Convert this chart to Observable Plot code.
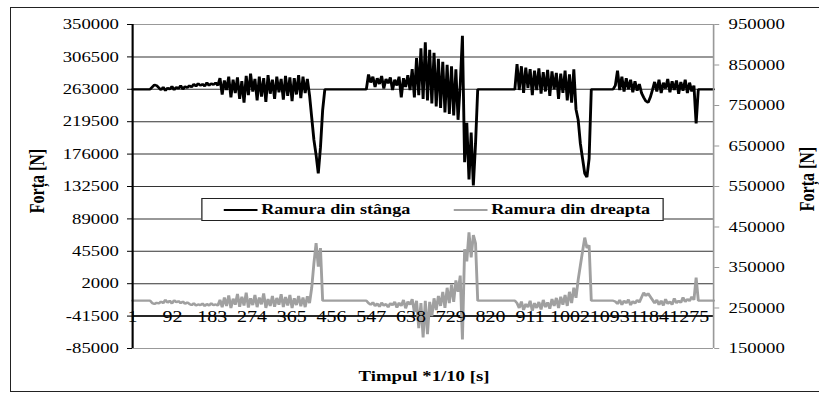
<!DOCTYPE html>
<html><head><meta charset="utf-8">
<script src="https://cdn.jsdelivr.net/npm/d3@7"></script>
<script src="https://cdn.jsdelivr.net/npm/@observablehq/plot@0.6"></script>
<style>
html,body{margin:0;padding:0;background:#fff;overflow:hidden;width:819px;height:394px;}
#frame{position:absolute;left:10px;top:7px;width:830px;height:383px;border:1px solid #222;}
#stage{position:absolute;left:0;top:0;width:655.2px;height:394px;transform:scaleX(1.25);transform-origin:0 0;font-family:"Liberation Serif","Times New Roman",serif;}
#stage svg{position:absolute;left:0;top:0;}
.title{position:absolute;font-family:"Liberation Serif","Times New Roman",serif;font-weight:bold;white-space:nowrap;color:#000;line-height:1;}
#legend{position:absolute;left:160.8px;top:198px;width:370.4px;height:23px;border:1px solid #222;background:#fff;box-sizing:border-box;font-family:"Liberation Serif","Times New Roman",serif;font-weight:bold;font-size:14.5px;line-height:21px;}
#legend .sw{position:absolute;top:10px;width:27px;height:2px;}
#legend .lb{position:absolute;top:0;white-space:nowrap;font-family:"Liberation Serif","Times New Roman",serif;}
</style></head>
<body>
<div id="frame"></div>
<div id="stage"></div>
<script>
// ---- data ----
const seriesNames = ["Ramura din stânga", "Ramura din dreapta"];
const leftTicks = [-85000, -41500, 2000, 45500, 89000, 132500, 176000, 219500, 263000, 306500, 350000];
const rightTicks = [150000, 250000, 350000, 450000, 550000, 650000, 750000, 850000, 950000];
const xTickLabels = [1, 92, 183, 274, 365, 456, 547, 638, 729, 820, 911, 1002, 1093, 1184, 1275];
const timeStep = 5; // one sample every 5 time units, starting at t = 1

const leftBranch = [
263000,263000,263000,263000,263000,263000,263000,263000,263000,
266000,269000,268000,265000,
262000,266000,261000,265000,263000,267000,262000,266000,264000,268000,263000,267000,265000,
268000,266000,270000,267000,271000,268000,270000,267000,272000,268000,271000,269000,272000,268000,
278000,256000,275000,262000,280000,252000,276000,258000,279000,250000,274000,245000,281000,255000,284000,260000,277000,248000,280000,253000,278000,246000,282000,257000,276000,250000,280000,259000,277000,249000,281000,254000,279000,247000,278000,256000,282000,251000,280000,258000,277000,255000,
225000,195000,175000,150000,185000,235000,
263000,263000,263000,263000,263000,263000,263000,263000,263000,263000,263000,263000,263000,263000,263000,263000,263000,263000,263000,263000,
283000,272000,280000,266000,278000,270000,281000,264000,277000,271000,279000,262000,276000,268000,280000,252000,278000,266000,282000,
262000,290000,252000,305000,255000,318000,
250000,326000,248000,316000,244000,312000,240000,304000,238000,300000,232000,296000,230000,294000,
228000,290000,222000,270000,
335000,
165000,218000,142000,205000,134000,190000,
263000,263000,263000,263000,263000,263000,263000,263000,263000,263000,263000,263000,263000,263000,263000,263000,263000,263000,
297000,262000,294000,258000,292000,265000,290000,255000,288000,262000,291000,257000,286000,260000,289000,254000,287000,263000,285000,250000,284000,258000,288000,248000,283000,245000,290000,236000,
222000,190000,170000,150000,145000,170000,
263000,263000,263000,263000,263000,263000,263000,263000,263000,263000,263000,
268000,288000,262000,280000,260000,278000,263000,276000,259000,274000,261000,270000,
258000,252000,247000,245000,252000,262000,
273000,260000,276000,258000,272000,264000,277000,259000,274000,262000,275000,257000,273000,261000,276000,258000,272000,260000,268000,
217000,
263000,263000,263000,263000,263000,263000,263000,263000
];

const rightBranch = [
268000,268000,268000,268000,268000,268000,268000,268000,268000,
262000,260000,263000,261000,
266000,262000,270000,263000,268000,261000,269000,264000,267000,262000,266000,260000,264000,
260000,257000,262000,256000,259000,257000,261000,255000,260000,256000,262000,257000,259000,256000,
270000,252000,276000,255000,281000,250000,273000,258000,285000,253000,278000,256000,288000,251000,274000,257000,282000,252000,276000,259000,286000,250000,272000,255000,280000,253000,275000,258000,284000,252000,277000,256000,282000,250000,274000,257000,280000,254000,276000,252000,279000,262000,
300000,360000,410000,352000,398000,268000,
268000,268000,268000,268000,268000,268000,268000,268000,268000,268000,268000,268000,268000,268000,268000,268000,268000,268000,268000,268000,
262000,258000,264000,255000,261000,253000,263000,256000,260000,252000,262000,257000,265000,251000,263000,255000,270000,249000,266000,
258000,272000,240000,268000,200000,262000,
177000,268000,185000,265000,230000,274000,245000,280000,255000,290000,250000,300000,262000,308000,
265000,318000,290000,330000,
172000,
395000,365000,437000,375000,430000,410000,
268000,268000,268000,268000,268000,268000,268000,268000,268000,268000,268000,268000,268000,268000,268000,268000,268000,268000,
262000,250000,266000,245000,260000,252000,268000,243000,262000,250000,265000,246000,270000,252000,264000,248000,272000,255000,275000,250000,278000,258000,282000,255000,290000,262000,300000,275000,
320000,355000,390000,424000,398000,405000,
268000,268000,268000,268000,268000,268000,268000,268000,268000,268000,268000,
266000,260000,270000,258000,268000,262000,271000,257000,267000,261000,270000,264000,
276000,288000,280000,286000,278000,270000,
262000,270000,258000,268000,256000,272000,260000,266000,258000,274000,262000,268000,263000,276000,265000,272000,267000,278000,270000,
325000,
268000,268000,268000,268000,268000,268000,268000,268000
];

// ---- build ----
const seriesColors = ["#000000", "#a0a0a0"];
const time = leftBranch.map((_, i) => 1 + i * timeStep);
const tMax = time[time.length - 1];
const toLeft = d3.scaleLinear()
  .domain([rightTicks[0], rightTicks[rightTicks.length - 1]])
  .range([leftTicks[0], leftTicks[leftTicks.length - 1]]);

const leftRows = time.map((t, i) => ({t, v: leftBranch[i]}));
const rightRows = time.map((t, i) => ({t, v: rightBranch[i]}));
const serif = '"Liberation Serif","Times New Roman",serif';

const chart = Plot.plot({
  width: 655.2,
  height: 394,
  marginLeft: 105.6,
  marginRight: 84.8,
  marginTop: 24,
  marginBottom: 46,
  style: {fontFamily: serif, fontSize: "15px", background: "transparent", overflow: "visible"},
  x: {domain: [1, tMax], axis: null},
  y: {domain: [leftTicks[0], leftTicks[leftTicks.length - 1]]},
  marks: [
    Plot.ruleY(leftTicks.slice(1, -1), {stroke: "#333", strokeWidth: 1}),
    Plot.ruleY([leftTicks[0], leftTicks[leftTicks.length - 1]], {stroke: "#999", strokeWidth: 1}),
    Plot.ruleY([-41500], {stroke: "#000", strokeWidth: 1.5}),
    Plot.line(leftRows, {x: "t", y: "v", stroke: seriesColors[0], strokeWidth: 2.3, strokeLinejoin: "miter"}),
    Plot.line(rightRows, {x: "t", y: d => toLeft(d.v), stroke: seriesColors[1], strokeWidth: 2.3, strokeLinejoin: "miter"}),
    Plot.ruleX([1], {stroke: "#000", strokeWidth: 1.7}),
    Plot.ruleX([tMax], {stroke: "#999", strokeWidth: 1.3}),
    Plot.axisY(leftTicks, {anchor: "left", tickSize: 4, tickPadding: 7, tickFormat: d => String(d), fontSize: 15, fontFamily: serif, label: null, stroke: "#000", fill: "#000"}),
    Plot.axisY(rightTicks.map(toLeft), {anchor: "right", tickSize: 4, tickPadding: 8, tickFormat: d => String(Math.round(toLeft.invert(d))), fontSize: 15, fontFamily: serif, label: null, stroke: "#999", fill: "#000"}),
    Plot.text(xTickLabels, {x: d => d, y: -41500, text: d => String(d), fontSize: 16, fontFamily: serif, lineAnchor: "middle", dy: 1, fill: "#000"})
  ]
});

const stage = document.getElementById("stage");
stage.appendChild(chart);

function addTitle(text, cx, cy, size, rotate) {
  const d = document.createElement("div");
  d.className = "title";
  d.textContent = text;
  d.style.left = cx + "px";
  d.style.top = cy + "px";
  d.style.fontSize = size + "px";
  d.style.transform = "translate(-50%,-50%)" + (rotate ? " rotate(-90deg)" : "");
  stage.appendChild(d);
}
addTitle("Forța [N]", 29.6, 181, 16, true);
addTitle("Forța [N]", 646, 179, 16, true);
addTitle("Timpul *1/10 [s]", 339.2, 376, 15, false);

const legend = document.createElement("div");
legend.id = "legend";
const lx = [[17.6, 47.2], [201.6, 231.2]];
seriesNames.forEach((name, k) => {
  const sw = document.createElement("div");
  sw.className = "sw";
  sw.style.left = lx[k][0] + "px";
  sw.style.background = seriesColors[k];
  legend.appendChild(sw);
  const lb = document.createElement("div");
  lb.className = "lb";
  lb.style.left = lx[k][1] + "px";
  lb.textContent = name;
  legend.appendChild(lb);
});
stage.appendChild(legend);
</script>
</body></html>
